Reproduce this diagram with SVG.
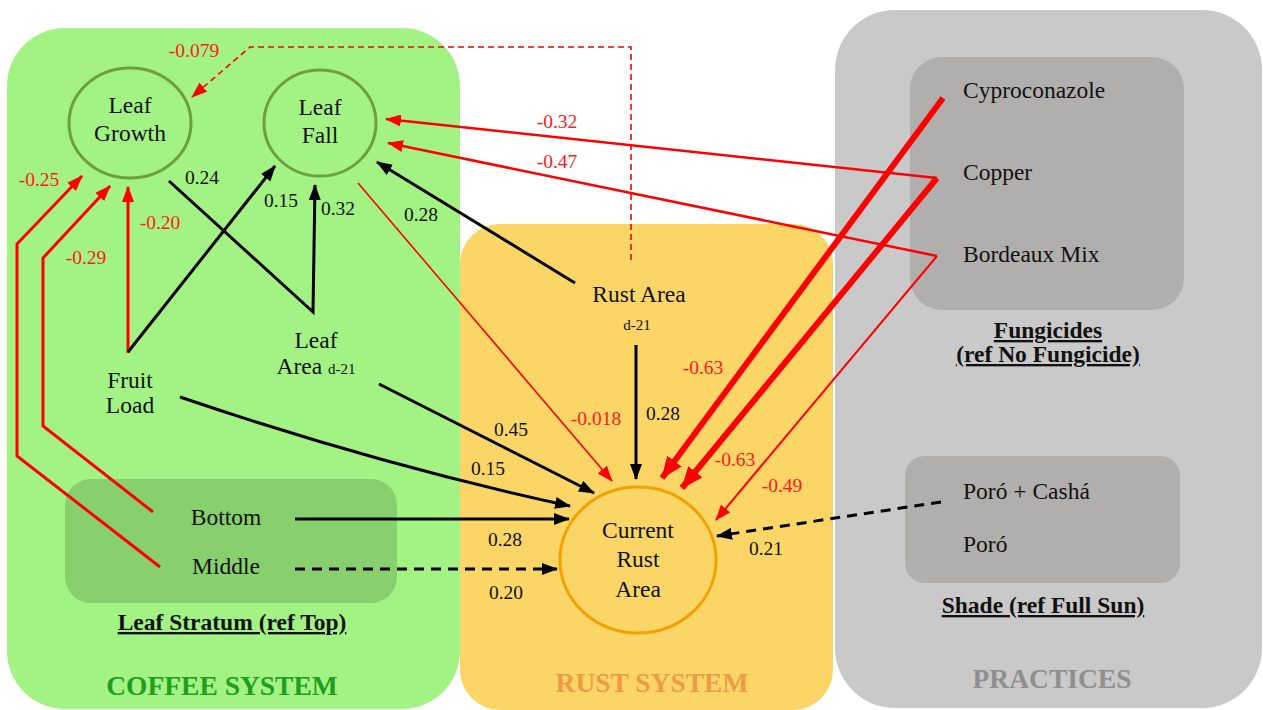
<svg xmlns="http://www.w3.org/2000/svg" width="1263" height="710" viewBox="0 0 1263 710">
  <style>
    text { font-family: "Liberation Serif", "Times New Roman", serif; fill: #111; }
    .node { font-size: 23.5px; text-anchor: middle; }
    .item { font-size: 23.5px; }
    .sub { font-size: 15px; }
    .lbl { font-size: 19.5px; text-anchor: middle; }
    .neg { fill: #ff1a1a; }
    .head { font-size: 23.5px; font-weight: bold; text-anchor: middle; text-decoration: underline; }
    .sys { font-size: 27.5px; font-weight: bold; text-anchor: middle; }
    .blk { stroke: #000; stroke-width: 3; fill: none; }
    .red { stroke: #ff0000; stroke-width: 3; fill: none; }
    .red-thin { stroke: #ff0000; stroke-width: 1.6; fill: none; }
    .red-thick { stroke: #ff0000; stroke-width: 6; fill: none; }
    .dash { stroke-dasharray: 10 7; }
    .dash-fine { stroke-dasharray: 6 4; }
  </style>
  <defs>
    <marker id="arrow-black" markerUnits="userSpaceOnUse" markerWidth="16" markerHeight="12" refX="15" refY="6" orient="auto">
      <path d="M0,0 L16,6 L0,12 z" fill="#000"/>
    </marker>
    <marker id="arrow-red" markerUnits="userSpaceOnUse" markerWidth="16" markerHeight="12" refX="15" refY="6" orient="auto">
      <path d="M0,0 L16,6 L0,12 z" fill="#ff0000"/>
    </marker>
    <marker id="arrow-red-big" markerUnits="userSpaceOnUse" markerWidth="22" markerHeight="18" refX="21" refY="9" orient="auto">
      <path d="M0,0 L22,9 L0,18 z" fill="#ff0000"/>
    </marker>
  </defs>

  <!-- system panels -->
  <g id="coffee-system">
    <rect x="7" y="28" width="453" height="681" rx="58" fill="#a2f383"/>
    <text class="sys" x="222" y="695" style="fill:#1f9e1f">COFFEE SYSTEM</text>
  </g>
  <g id="rust-system">
    <rect x="460" y="224" width="373" height="486" rx="40" fill="#fcd567"/>
    <text class="sys" x="652" y="692" style="fill:#ef9b45">RUST SYSTEM</text>
  </g>
  <g id="practices">
    <rect x="835" y="10" width="427" height="698" rx="60" fill="#c9c9c9"/>
    <text class="sys" x="1052" y="688" style="fill:#8f8f8f">PRACTICES</text>
  </g>

  <!-- grouped factors -->
  <g id="leaf-stratum">
    <rect x="65" y="479" width="332" height="124" rx="26" fill="#87d06d"/>
    <text class="node" x="226" y="525">Bottom</text>
    <text class="node" x="226" y="574">Middle</text>
    <text class="head" x="232" y="630">Leaf Stratum (ref Top)</text>
  </g>
  <g id="fungicides">
    <rect x="910" y="57" width="274" height="253" rx="32" fill="#b1aeae"/>
    <text class="item" x="963" y="98">Cyproconazole</text>
    <text class="item" x="963" y="180">Copper</text>
    <text class="item" x="963" y="262">Bordeaux Mix</text>
    <text class="head" x="1048" y="338">Fungicides</text>
    <text class="head" x="1048" y="362">(ref No Fungicide)</text>
  </g>
  <g id="shade">
    <rect x="905" y="456" width="275" height="127" rx="20" fill="#b1aeae"/>
    <text class="item" x="963" y="499">Poró + Cashá</text>
    <text class="item" x="963" y="552">Poró</text>
    <text class="head" x="1043" y="613">Shade (ref Full Sun)</text>
  </g>

  <!-- variables -->
  <g id="leaf-growth">
    <ellipse cx="130" cy="123" rx="61" ry="55" fill="none" stroke="#6f9f3d" stroke-width="3"/>
    <text class="node" x="130" y="113">Leaf</text>
    <text class="node" x="130" y="141">Growth</text>
  </g>
  <g id="leaf-fall">
    <ellipse cx="320" cy="123" rx="56" ry="53" fill="none" stroke="#6f9f3d" stroke-width="3"/>
    <text class="node" x="320" y="115">Leaf</text>
    <text class="node" x="320" y="143">Fall</text>
  </g>
  <g id="fruit-load">
    <text class="node" x="130" y="388">Fruit</text>
    <text class="node" x="130" y="413">Load</text>
  </g>
  <g id="leaf-area">
    <text class="node" x="316" y="348">Leaf</text>
    <text class="node" x="316" y="374">Area <tspan class="sub">d-21</tspan></text>
  </g>
  <g id="rust-area">
    <text class="node" x="639" y="302">Rust Area</text>
    <text class="node sub" x="637" y="330">d-21</text>
  </g>
  <g id="current-rust-area">
    <ellipse cx="638" cy="560" rx="78" ry="73" fill="none" stroke="#f4a000" stroke-width="3"/>
    <text class="node" x="638" y="538">Current</text>
    <text class="node" x="638" y="567">Rust</text>
    <text class="node" x="638" y="597">Area</text>
  </g>

  <!-- paths -->
  <g id="connectors">
    <!-- negative effects -->
    <polyline class="red-thin dash-fine" points="631,260 631,47 250,47 192,97" marker-end="url(#arrow-red)"/>
    <polyline class="red" points="160,567 17,456 17,244 82,176" marker-end="url(#arrow-red)"/>
    <polyline class="red" points="153,512 43,426 43,258 110,186" marker-end="url(#arrow-red)"/>
    <line class="red" x1="128" y1="353" x2="128" y2="187" marker-end="url(#arrow-red)"/>
    <polyline class="red" points="937,256 716,520" marker-end="url(#arrow-red)" style="stroke-width:2"/>
    <line class="red" x1="937" y1="178" x2="386" y2="119" marker-end="url(#arrow-red)" style="stroke-width:2.5"/>
    <line class="red" x1="937" y1="256" x2="388" y2="143" marker-end="url(#arrow-red)" style="stroke-width:2.5"/>
    <line class="red-thin" x1="358" y1="183" x2="612" y2="481" marker-end="url(#arrow-red)"/>
    <line class="red-thick" x1="943" y1="98" x2="662" y2="478" marker-end="url(#arrow-red-big)"/>
    <line class="red-thick" x1="937" y1="178" x2="682" y2="488" marker-end="url(#arrow-red-big)"/>

    <!-- positive effects -->
    <line class="blk" x1="128" y1="352" x2="275" y2="166" marker-end="url(#arrow-black)"/>
    <polyline class="blk" points="169,181 313,312 315,185" marker-end="url(#arrow-black)"/>
    <line class="blk" x1="575" y1="283" x2="377" y2="162" marker-end="url(#arrow-black)"/>
    <line class="blk" x1="636" y1="345" x2="636" y2="479" marker-end="url(#arrow-black)"/>
    <line class="blk" x1="379" y1="384" x2="594" y2="493" marker-end="url(#arrow-black)"/>
    <path class="blk" d="M180,397 Q380,465 570,506" marker-end="url(#arrow-black)"/>
    <line class="blk" x1="295" y1="519" x2="569" y2="519" marker-end="url(#arrow-black)"/>
    <line class="blk dash" x1="295" y1="569" x2="557" y2="569" marker-end="url(#arrow-black)"/>
    <line class="blk dash" x1="941" y1="502" x2="717" y2="536" marker-end="url(#arrow-black)"/>

    <!-- coefficients -->
    <text class="lbl neg" x="194" y="57">-0.079</text>
    <text class="lbl neg" x="39" y="186">-0.25</text>
    <text class="lbl neg" x="86" y="264">-0.29</text>
    <text class="lbl neg" x="160" y="229">-0.20</text>
    <text class="lbl neg" x="557" y="128">-0.32</text>
    <text class="lbl neg" x="557" y="168">-0.47</text>
    <text class="lbl neg" x="596" y="425">-0.018</text>
    <text class="lbl neg" x="703" y="374">-0.63</text>
    <text class="lbl neg" x="735" y="466">-0.63</text>
    <text class="lbl neg" x="782" y="492">-0.49</text>
    <text class="lbl" x="202" y="184">0.24</text>
    <text class="lbl" x="281" y="207">0.15</text>
    <text class="lbl" x="338" y="215">0.32</text>
    <text class="lbl" x="421" y="221">0.28</text>
    <text class="lbl" x="663" y="420">0.28</text>
    <text class="lbl" x="511" y="436">0.45</text>
    <text class="lbl" x="488" y="475">0.15</text>
    <text class="lbl" x="505" y="546">0.28</text>
    <text class="lbl" x="506" y="599">0.20</text>
    <text class="lbl" x="766" y="555">0.21</text>
  </g>
</svg>
